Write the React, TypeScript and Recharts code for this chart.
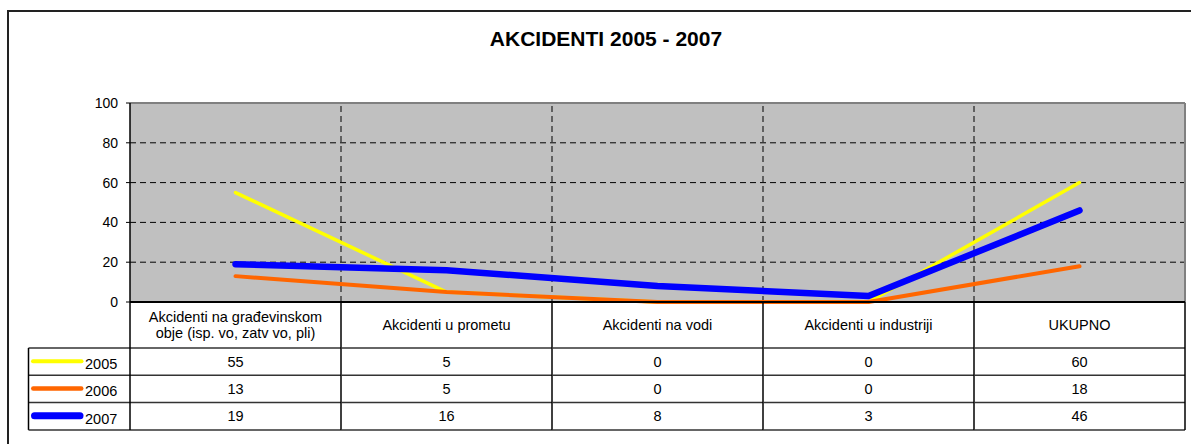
import React from "react";
import { LineChart, Line, XAxis, YAxis, CartesianGrid, ReferenceLine } from "recharts";

const CATEGORIES = [
  "Akcidenti na građevinskom\nobje (isp. vo, zatv vo, pli)",
  "Akcidenti u prometu",
  "Akcidenti na vodi",
  "Akcidenti u industriji",
  "UKUPNO",
];
const YEARS = ["2005", "2006", "2007"];
const VALUES_2005 = [55, 5, 0, 0, 60];
const VALUES_2006 = [13, 5, 0, 0, 18];
const VALUES_2007 = [19, 16, 8, 3, 46];
const Y_TICKS = [0, 20, 40, 60, 80, 100];

const SERIES = [
  { key: "y2005", name: YEARS[0], values: VALUES_2005, color: "#ffff00", width: 3.5, legendWidth: 4 },
  { key: "y2006", name: YEARS[1], values: VALUES_2006, color: "#ff6600", width: 4, legendWidth: 4.5 },
  { key: "y2007", name: YEARS[2], values: VALUES_2007, color: "#0000ff", width: 6.5, legendWidth: 7 },
];

const data = CATEGORIES.map((name, i) => {
  const row: Record<string, any> = { name };
  SERIES.forEach((s) => (row[s.key] = s.values[i]));
  return row;
});

const FONT = 'Arial, "Liberation Sans", sans-serif';
const HEADER_H = 46;
const ROW_H = 27.3;
const LEGEND_LEFT = 28.5;
const BORDER = "#000";
const ROW_LINE = "#333";

// draws one column of the data table under the plot (header + values)
function TableTick(props: any) {
  const { x, y, index, payload } = props;
  const half = payload.offset;
  const left = x - half;
  const right = x + half;
  const lines = CATEGORIES[index].split("\n");
  const rowsTop = y + HEADER_H;
  const bottom = rowsTop + ROW_H * SERIES.length;
  const firstBase = y + 28 - (lines.length - 1) * 7.75;

  return (
    <g fontFamily={FONT} fontSize={14.5} fill="#000">
      {lines.map((l, i) => (
        <text key={i} x={x} y={firstBase + i * 15.5} textAnchor="middle" fill="#000">
          {l}
        </text>
      ))}
      {SERIES.map((s, r) => (
        <text key={s.key} x={x} y={rowsTop + r * ROW_H + ROW_H / 2 + 5} textAnchor="middle" fill="#000">
          {s.values[index]}
        </text>
      ))}
      {[0, 1, 2, 3].map((r) => (
        <line
          key={r}
          x1={index === 0 ? LEGEND_LEFT : left}
          x2={right}
          y1={rowsTop + r * ROW_H}
          y2={rowsTop + r * ROW_H}
          stroke={ROW_LINE}
          strokeWidth={1.5}
        />
      ))}
      <line x1={right} x2={right} y1={y} y2={bottom} stroke={BORDER} strokeWidth={1.5} />
      {index === 0 && (
        <g>
          <line x1={left} x2={left} y1={y} y2={bottom} stroke={BORDER} strokeWidth={1.5} />
          <line x1={LEGEND_LEFT} x2={LEGEND_LEFT} y1={rowsTop} y2={bottom} stroke={BORDER} strokeWidth={1.5} />
          {SERIES.map((s, r) => {
            const cy = rowsTop + r * ROW_H + ROW_H / 2;
            return (
              <g key={s.key}>
                <line
                  x1={LEGEND_LEFT + 2.5 + s.legendWidth / 2}
                  x2={LEGEND_LEFT + 55 - s.legendWidth / 2}
                  y1={cy - 0.5}
                  y2={cy - 0.5}
                  stroke={s.color}
                  strokeWidth={s.legendWidth}
                  strokeLinecap="round"
                />
                <text x={LEGEND_LEFT + 56.5} y={cy + 7.5} textAnchor="start" fill="#000">
                  {s.name}
                </text>
              </g>
            );
          })}
        </g>
      )}
    </g>
  );
}

export default function App() {
  return (
    <div
      style={{
        position: "fixed",
        left: 0,
        top: 0,
        width: 1191,
        height: 444,
        overflow: "hidden",
        background: "#fff",
        fontFamily: FONT,
      }}
    >
      <div
        style={{
          position: "absolute",
          left: 7,
          top: 10,
          width: 1400,
          height: 600,
          border: "2px solid #222",
          boxSizing: "border-box",
        }}
      />
      <div
        style={{
          position: "absolute",
          left: 0,
          top: 27,
          width: 1212,
          textAlign: "center",
          fontWeight: "bold",
          fontSize: 21,
          lineHeight: "24px",
          color: "#000",
        }}
      >
        AKCIDENTI 2005 - 2007
      </div>
      <div style={{ position: "absolute", left: 0, top: 0 }}>
        <LineChart
          width={1191}
          height={444}
          data={data}
          margin={{ top: 103, right: 6, bottom: 14, left: 0 }}
          style={{ fontFamily: FONT }}
        >
          <CartesianGrid
            vertical={false}
            fill="#c0c0c0"
            fillOpacity={1}
            stroke="#000"
            strokeDasharray="6 4"
          />
          {CATEGORIES.slice(0, 4).map((c) => (
            <ReferenceLine key={c} x={c} position="end" stroke="#000" strokeDasharray="6 4" />
          ))}
          <ReferenceLine y={100} stroke="#808080" strokeWidth={2} />
          <ReferenceLine x={CATEGORIES[4]} position="end" stroke="#808080" strokeWidth={2} />
          <XAxis
            dataKey="name"
            type="category"
            scale="band"
            interval={0}
            height={128}
            tickLine={false}
            tickSize={0}
            tickMargin={0}
            axisLine={{ stroke: "#000", strokeWidth: 2 }}
            tick={<TableTick />}
          />
          <YAxis
            width={130}
            domain={[0, 100]}
            ticks={Y_TICKS}
            interval={0}
            tickSize={4}
            tickMargin={8}
            axisLine={{ stroke: "#000", strokeWidth: 1.5 }}
            tickLine={{ stroke: "#000" }}
            tick={{ fill: "#000", fontSize: 14, fontFamily: FONT }}
          />
          {SERIES.map((s) => (
            <Line
              key={s.key}
              dataKey={s.key}
              name={s.name}
              type="linear"
              stroke={s.color}
              strokeWidth={s.width}
              strokeLinecap="round"
              strokeLinejoin="round"
              dot={false}
              activeDot={false}
              isAnimationActive={false}
            />
          ))}
        </LineChart>
      </div>
    </div>
  );
}
